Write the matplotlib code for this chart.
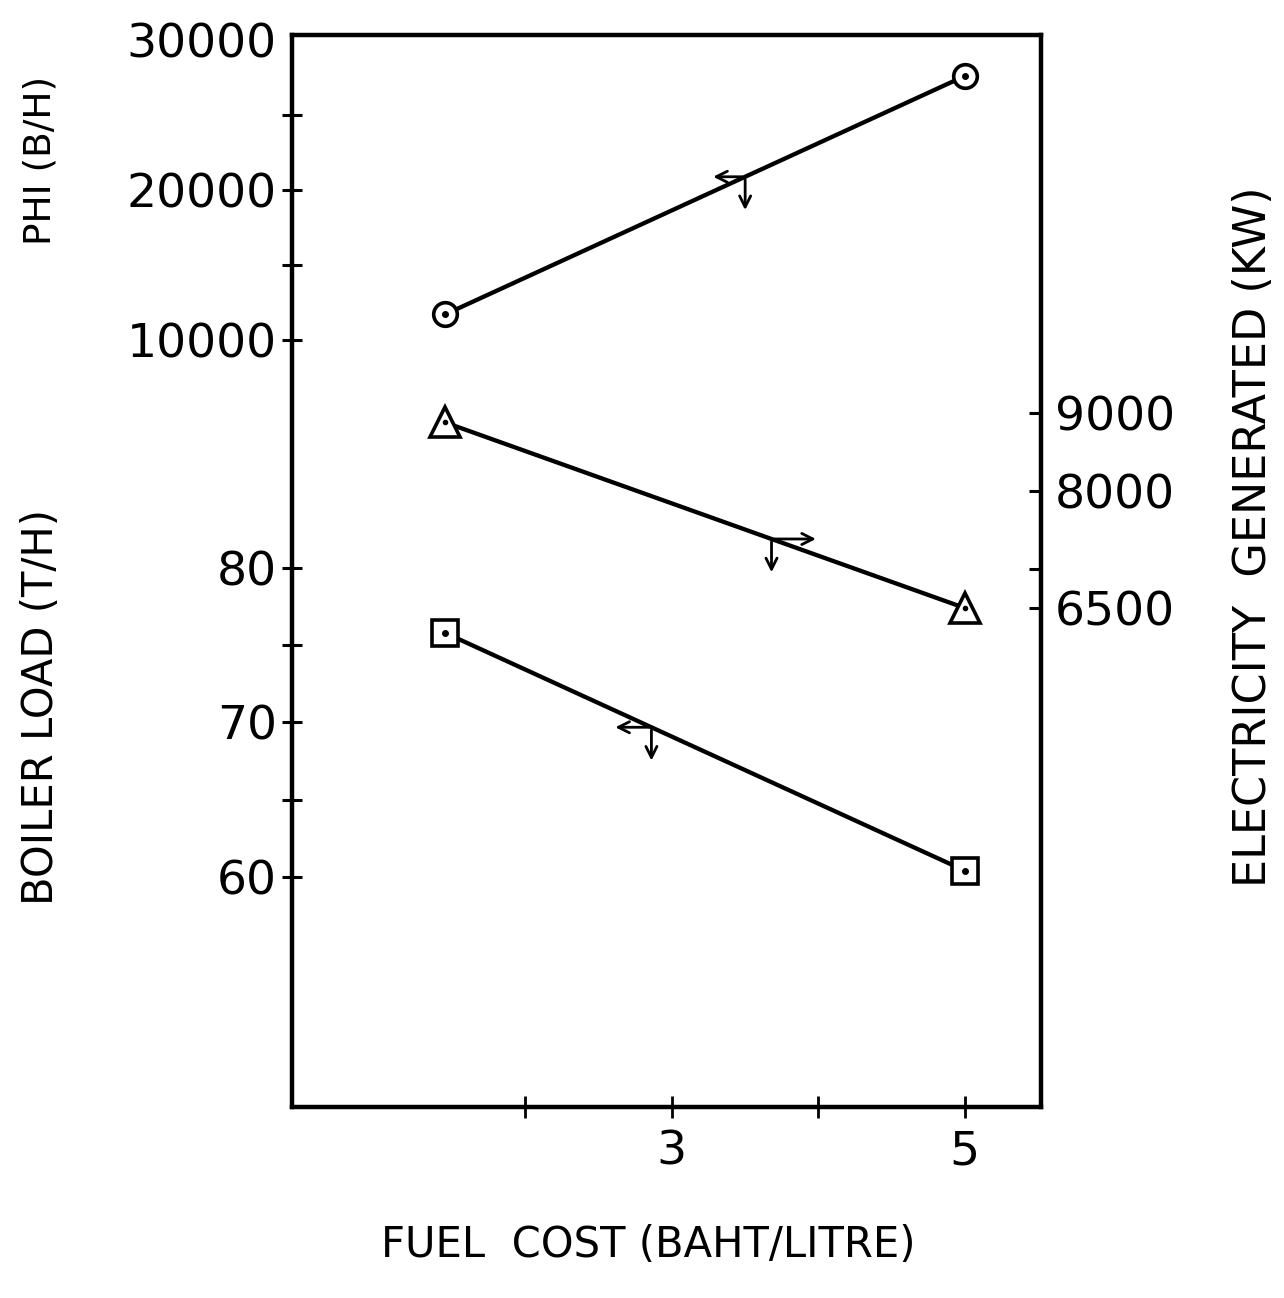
import matplotlib.pyplot as plt

# values
fuel_cost = [1.45, 5.0]
phi = [11700, 27600]            # B/H
electricity = [8880, 6500]      # KW
boiler_load = [75.8, 60.4]      # T/H

phi_ticks = [10000, 20000, 30000]
phi_minor = [15000, 25000]
load_ticks = [60, 70, 80]
load_minor = [65, 75]
elec_ticks = [6500, 7000, 8000, 9000]
elec_labels = ["6500", "", "8000", "9000"]
x_ticks = [2, 3, 4, 5]
x_labels = ["", "3", "", "5"]

plt.rcParams["font.family"] = "DejaVu Sans"

fig = plt.figure(figsize=(12.84, 12.98), dpi=100)
W, H = 1284, 1298
left, right, top, bottom = 292, 1041, 35, 1107
ax = fig.add_axes([left / W, 1 - bottom / H, (right - left) / W, (bottom - top) / H])

ax_phi = ax.twinx()
ax_el = ax.twinx()

# limits chosen so the three scales sit where they do on the original
ax.set_xlim(0.406, 5.52)
ax.set_ylim(45.1, 114.5)
ax_phi.set_ylim(-41133, 30333)
ax_el.set_ylim(103, 13846)

lw_spine = 3.2
for a in (ax, ax_phi, ax_el):
    for s in a.spines.values():
        s.set_visible(False)
for s in ax.spines.values():
    s.set_visible(True)
    s.set_linewidth(lw_spine)

tick_fs = 34

# x axis
ax.set_xticks(x_ticks)
ax.set_xticklabels(x_labels)
ax.tick_params(axis="x", direction="inout", length=16, width=2, labelsize=tick_fs, pad=8)

# boiler load on the left (lower part)
ax.set_yticks(load_ticks)
ax.set_yticks(load_minor, minor=True)
ax.tick_params(axis="y", which="both", direction="inout", length=14, width=2.2,
               labelsize=tick_fs, pad=4, left=True, right=False)

# PHI on the left (upper part)
ax_phi.yaxis.tick_left()
ax_phi.set_yticks(phi_ticks)
ax_phi.set_yticks(phi_minor, minor=True)
ax_phi.tick_params(axis="y", which="both", direction="inout", length=14, width=2.2,
                   labelsize=tick_fs, pad=4)
# the 30000 mark sits in the corner, no tick drawn there
ax_phi.yaxis.get_major_ticks()[2].tick1line.set_visible(False)

# electricity on the right
ax_el.set_yticks(elec_ticks)
ax_el.set_yticklabels(elec_labels)
ax_el.tick_params(axis="y", direction="in", length=9, width=2.2, labelsize=tick_fs, pad=10)

lw = 3.1
ax_phi.plot(fuel_cost, phi, color="black", lw=lw, marker="o", ms=17,
            mfc="white", mec="black", mew=2.6, zorder=3)
ax_phi.plot(fuel_cost, phi, ls="none", marker="o", ms=4, color="black", zorder=4)

ax_el.plot(fuel_cost, electricity, color="black", lw=lw, marker="^", ms=21,
           mfc="white", mec="black", mew=2.6, zorder=3)
ax_el.plot(fuel_cost, electricity, ls="none", marker="o", ms=3, color="black", zorder=4)

ax.plot(fuel_cost, boiler_load, color="black", lw=lw, marker="s", ms=19,
        mfc="white", mec="black", mew=2.6, zorder=3)
ax.plot(fuel_cost, boiler_load, ls="none", marker="o", ms=4, color="black", zorder=4)


def on_line(xs, ys, x):
    t = (x - xs[0]) / (xs[1] - xs[0])
    return ys[0] + t * (ys[1] - ys[0])


def axis_arrows(a, xs, ys, x, horiz):
    y = on_line(xs, ys, x)
    props = dict(arrowstyle="<-", color="black", lw=2.0, mutation_scale=20)
    a.annotate("", xy=(x, y), xytext=(horiz, 0), textcoords="offset points",
               arrowprops=props)
    a.annotate("", xy=(x, y), xytext=(0, -26), textcoords="offset points",
               arrowprops=props)


axis_arrows(ax_phi, fuel_cost, phi, 3.5, -25)
axis_arrows(ax_el, fuel_cost, electricity, 3.68, 34)
axis_arrows(ax, fuel_cost, boiler_load, 2.86, -28)

# axis titles
fig.text(41 / W, 1 - 160 / H, "PHI (B/H)", rotation=90, ha="center", va="center", fontsize=27)
fig.text(41 / W, 1 - 707 / H, "BOILER LOAD (T/H)", rotation=90, ha="center", va="center",
         fontsize=30)
fig.text(1254 / W, 1 - 537 / H, "ELECTRICITY  GENERATED (KW)", rotation=90, ha="center",
         va="center", fontsize=32)
fig.text(648 / W, 1 - 1245 / H, "FUEL  COST (BAHT/LITRE)", ha="center", va="center",
         fontsize=30)

fig.savefig("out.png", dpi=100, facecolor="white")
